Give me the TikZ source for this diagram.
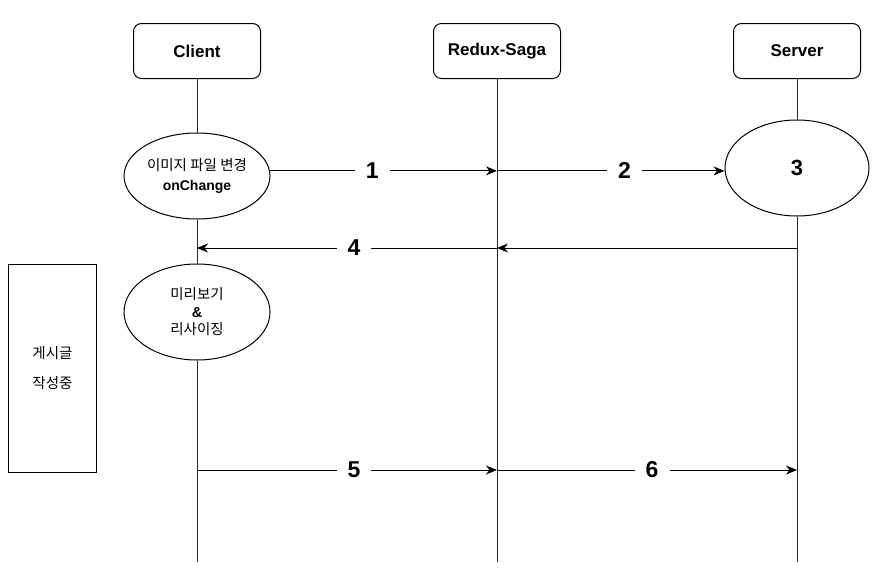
\documentclass[tikz,border=0pt]{standalone}
\usepackage{fontspec}
\setmainfont{Liberation Sans}
\newfontfamily\kr{Noto Sans CJK KR}
\usetikzlibrary{arrows.meta,shapes.geometric,calc}
\tikzset{
  actorbox/.style={draw, rounded corners=8pt, minimum width=127pt, minimum height=55pt, line width=1pt, font=\bfseries\fontsize{17}{20}\selectfont},
  proc/.style={draw, ellipse, line width=1pt, inner sep=0pt, align=center},
  life/.style={line width=1pt, draw=black!85},
  msg/.style={line width=1pt, -{Stealth[length=11pt,width=9pt,inset=3.5pt]}},
  lbl/.style={fill=white, font=\bfseries\fontsize{23}{25}\selectfont, inner xsep=11pt, inner ysep=1pt},
  krtext/.style={font=\kr\fontsize{14.5}{18}\selectfont}
}
\begin{document}
\begin{tikzpicture}[x=1pt,y=-1pt]
\useasboundingbox (0,0) rectangle (881,568);
% actors
\node[actorbox] (client) at (197,51) {Client};
\node[actorbox] (saga) at (497,51) {Redux-Saga};
\node[actorbox] (server) at (797,51) {Server};
% ellipses
\node[proc, minimum width=146pt, minimum height=86pt, font=\fontsize{14.5}{20}\selectfont] (e1) at (197,176)
  {{\kr 이미지 파일 변경}\\{\bfseries\fontsize{14}{20}\selectfont onChange}};
\node[proc, minimum width=146pt, minimum height=96pt, font=\fontsize{14.5}{17.5}\selectfont] (e2) at (197,312)
  {{\kr 미리보기}\\{\bfseries \&}\\{\kr 리사이징}};
\node[proc, minimum width=144pt, minimum height=96pt, font=\bfseries\fontsize{22}{24}\selectfont] (e3) at (797,168) {3};
% side box
\node[draw, line width=1pt, minimum width=88pt, minimum height=208pt, align=center, krtext] (note) at (52.5,368)
  {게시글\\[12pt]작성중};
% end points
\coordinate (cend) at (197,562);
\coordinate (send) at (497,562);
\coordinate (vend) at (797,562);
% lifelines
\draw[life] (client) -- (e1);
\draw[life] (e1) -- (e2);
\draw[life] (e2) -- (cend);
\draw[life] (saga) -- (send);
\draw[life] (server) -- (e3);
\draw[life] (e3) -- (vend);
% messages
\coordinate (m1) at (e1.4);
\coordinate (m1s) at (m1 -| saga);
\draw[msg] (m1) -- (m1s) node[lbl, pos=0.45] {1};
\draw[msg] (m1s) -- (m1s -| e3.west) node[lbl, pos=0.56] {2};
\coordinate (m4) at (797,248);
\coordinate (m4s) at (m4 -| saga);
\draw[msg] (m4) -- (m4s);
\draw[msg] (m4s) -- (m4s -| client) node[lbl, pos=0.477] {4};
\coordinate (m5) at (197,470);
\coordinate (m5s) at (m5 -| saga);
\draw[msg] (m5) -- (m5s) node[lbl, pos=0.523] {5};
\draw[msg] (m5s) -- (m5s -| server) node[lbl, pos=0.517] {6};
\end{tikzpicture}
\end{document}
